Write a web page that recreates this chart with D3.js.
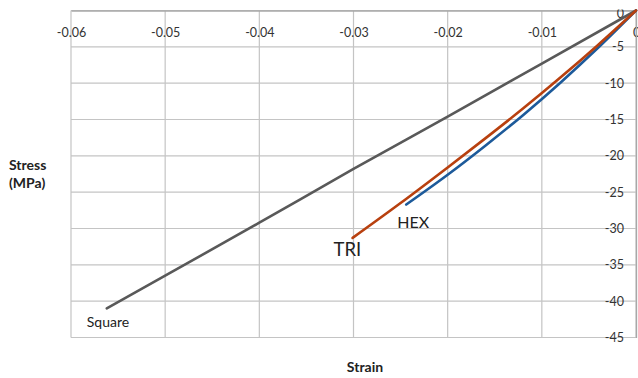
<!DOCTYPE html>
<html>
<head>
<meta charset="utf-8">
<script src="https://cdn.jsdelivr.net/npm/d3@7"></script>
<style>
  body { margin: 0; background: #fff; }
  svg { display: block; }
</style>
</head>
<body>
<svg id="chart" width="638" height="378"></svg>
<script>
// ---- data ----
const xTicks = [-0.06, -0.05, -0.04, -0.03, -0.02, -0.01, 0];
const xTickLabels = ["-0.06", "-0.05", "-0.04", "-0.03", "-0.02", "-0.01", "0"];
const yTicks = [0, -5, -10, -15, -20, -25, -30, -35, -40, -45];
const yTickLabels = ["0", "-5", "-10", "-15", "-20", "-25", "-30", "-35", "-40", "-45"];

const squareStrain = [0, -0.01, -0.02, -0.03, -0.04, -0.05, -0.0562];
const squareStress = [0, -7.3, -14.6, -21.8, -29.2, -36.5, -41.0];

const triStrain = [0, -0.004, -0.008, -0.012, -0.016, -0.020, -0.025, -0.0301];
const triStress = [0, -4.7, -9.2, -13.5, -17.6, -21.6, -26.5, -31.3];

const hexStrain = [0, -0.004, -0.008, -0.012, -0.016, -0.020, -0.0244];
const hexStress = [0, -5.1, -9.9, -14.4, -18.6, -22.6, -26.7];

const seriesNames = ["Square", "TRI", "HEX"];

// ---- chart ----
const svg = d3.select("#chart");
const W = 638, H = 378;
const mLeft = 71, mRight = 636, mTop = 10.5, mBottom = 337.5;
const FONT = "Lato, 'Open Sans', sans-serif";

const x = d3.scaleLinear().domain([-0.06, 0]).range([mLeft, mRight]);
const y = d3.scaleLinear().domain([-45, 0]).range([mBottom, mTop]);

// gridlines
const grid = svg.append("g");
grid.selectAll("line.v").data(xTicks).enter().append("line")
  .attr("x1", d => x(d)).attr("x2", d => x(d))
  .attr("y1", mTop).attr("y2", mBottom)
  .attr("stroke", "#C4C4C4").attr("stroke-width", 1.2);
grid.selectAll("line.h").data(yTicks).enter().append("line")
  .attr("x1", mLeft).attr("x2", mRight)
  .attr("y1", d => y(d)).attr("y2", d => y(d))
  .attr("stroke", "#C4C4C4").attr("stroke-width", 1.2);

// x axis (top)
const xAxis = d3.axisBottom(x).tickValues(xTicks)
  .tickFormat((d, i) => xTickLabels[i]).tickSize(0).tickPadding(18);
const gx = svg.append("g").attr("transform", `translate(0,${mTop})`).call(xAxis);
gx.select(".domain").attr("stroke", "#A8A8A8").attr("stroke-width", 1.3);
gx.selectAll("text").attr("font-family", FONT).attr("font-size", 12.5).attr("fill", "#333");

// y axis (right edge, labels to the left); the top "0" label is clipped at the axis line
svg.append("defs").append("clipPath").attr("id", "yclip").append("rect")
  .attr("x", -W).attr("y", mTop - 1).attr("width", W + 20).attr("height", H);
const yAxis = d3.axisLeft(y).tickValues(yTicks)
  .tickFormat((d, i) => yTickLabels[i]).tickSize(0).tickPadding(12);
const gy = svg.append("g").attr("transform", `translate(${mRight},0)`)
  .attr("clip-path", "url(#yclip)").call(yAxis);
gy.select(".domain").attr("stroke", "#A8A8A8").attr("stroke-width", 1.3);
gy.selectAll("text").attr("font-family", FONT).attr("font-size", 12.5).attr("fill", "#333");
gy.selectAll(".tick").filter(d => d === 0).select("text").attr("dy", "0.55em");

// series
const line = d3.line().x(d => x(d[0])).y(d => y(d[1])).curve(d3.curveMonotoneX);
const zip = (a, b) => a.map((v, i) => [v, b[i]]);
const series = [
  { name: seriesNames[0], pts: zip(squareStrain, squareStress), color: "#595959" },
  { name: seriesNames[2], pts: zip(hexStrain, hexStress), color: "#1D5A9A" },
  { name: seriesNames[1], pts: zip(triStrain, triStress), color: "#B8400F" }
];
svg.append("g").selectAll("path").data(series).enter().append("path")
  .attr("d", d => line(d.pts.slice().sort((a, b) => a[0] - b[0])))
  .attr("fill", "none").attr("stroke", d => d.color)
  .attr("stroke-width", 2.6).attr("stroke-linecap", "round");

// series labels placed relative to each series' end point
const endOf = arr => arr[arr.length - 1];
const lab = svg.append("g").attr("font-family", FONT).attr("fill", "#222");
lab.append("text").text(seriesNames[0])
  .attr("x", x(endOf(squareStrain)) - 20).attr("y", y(endOf(squareStress)) + 19)
  .attr("font-size", 14);
lab.append("text").text(seriesNames[1])
  .attr("x", x(endOf(triStrain)) - 19).attr("y", y(endOf(triStress)) + 18)
  .attr("font-size", 18.5);
lab.append("text").text(seriesNames[2])
  .attr("x", x(endOf(hexStrain)) - 9).attr("y", y(endOf(hexStress)) + 23)
  .attr("font-size", 16);

// axis titles
const titles = svg.append("g").attr("font-family", FONT).attr("font-weight", "bold")
  .attr("font-size", 14).attr("fill", "#222");
titles.append("text").text("Stress").attr("x", 9).attr("y", 170);
titles.append("text").text("(MPa)").attr("x", 9).attr("y", 188);
titles.append("text").text("Strain").attr("x", 365).attr("y", 372).attr("text-anchor", "middle");
</script>
</body>
</html>
